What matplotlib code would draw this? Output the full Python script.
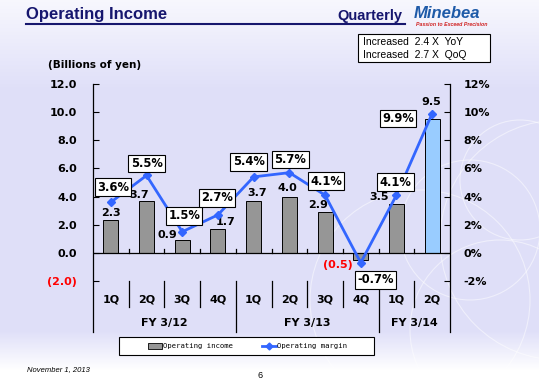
import matplotlib
matplotlib.use("Agg")
import matplotlib.pyplot as plt
import matplotlib.patches as mpatches
import numpy as np

# === DATOS ===
quarters = ["1Q", "2Q", "3Q", "4Q", "1Q", "2Q", "3Q", "4Q", "1Q", "2Q"]
fiscal_years = ["FY 3/12", "FY 3/13", "FY 3/14"]
fy_spans = [(0, 3), (4, 7), (8, 9)]
operating_income = [2.3, 3.7, 0.9, 1.7, 3.7, 4.0, 2.9, -0.5, 3.5, 9.5]
operating_margin = [3.6, 5.5, 1.5, 2.7, 5.4, 5.7, 4.1, -0.7, 4.1, 9.9]
left_ticks = [12, 10, 8, 6, 4, 2, 0, -2]
right_ticks = [12, 10, 8, 6, 4, 2, 0, -2]

# desplazamientos de etiquetas (pixeles)
inc_off = [(0, 7), (-7, 6), (-15, 5), (8, 7), (3, 8), (-2, 9), (-7, 7), (-23, -5), (-17, 7), (-1, 17)]
mar_off = [(2, 15), (0, 12), (2, 16), (-1, 17), (-5, 15), (1, 13), (1, 14), (15, -17), (-1, 13), (-34, -5)]

# === FIGURA ===
W, H = 539, 380
fig = plt.figure(figsize=(W / 100, H / 100), dpi=100)

# fondo degradado
bg = fig.add_axes([0, 0, 1, 1], zorder=-10)
grad = np.ones((H, 1, 3))
top = np.array([0.97, 0.97, 0.995])
mid = np.array([0.875, 0.875, 0.975])
for r in range(H):
    if r < 90:
        c = top + (mid - top) * r / 90
    elif r < 330:
        c = mid
    else:
        t = min((r - 330) / 40, 1)
        c = mid + (np.array([1, 1, 1]) - mid) * t
    grad[r, 0] = c
bg.imshow(grad, aspect="auto", extent=[0, W, H, 0])
for cx, cy, rad in [(470, 230, 70), (520, 180, 60), (420, 300, 110), (500, 330, 90), (560, 240, 120)]:
    bg.add_patch(mpatches.Circle((cx, cy), rad, fill=False, ec="white", lw=0.8, alpha=0.5))
bg.set_xlim(0, W)
bg.set_ylim(H, 0)
bg.axis("off")

# titulo
fig.text(26 / W, 1 - 14 / H, "Operating Income", fontsize=12, fontweight="bold",
         color="#16166e", family="Liberation Sans", va="center")
fig.text(337 / W, 1 - 16 / H, "Quarterly", fontsize=10.5, fontweight="bold",
         color="#16166e", family="Liberation Sans", va="center")
bg.plot([26, 405], [24, 24], color="#16166e", lw=1.5)
fig.text(414 / W, 1 - 13 / H, "Minebea", fontsize=12, fontweight="bold", style="italic",
         color="#1e5aa8", family="Liberation Sans", va="center")
fig.text(416 / W, 1 - 25 / H, "Passion to Exceed Precision", fontsize=3.8, fontweight="bold",
         style="italic", color="#d02020", family="Liberation Sans", va="center")

# caja de incremento
bg.add_patch(mpatches.Rectangle((358, 34), 132, 28, fc="white", ec="black", lw=0.8))
fig.text(363 / W, 1 - 42 / H, "Increased  2.4 X  YoY", fontsize=7.5, family="Liberation Sans", va="center")
fig.text(363 / W, 1 - 55 / H, "Increased  2.7 X  QoQ", fontsize=7.5, family="Liberation Sans", va="center")

fig.text(48 / W, 1 - 65 / H, "(Billions of yen)", fontsize=7.5, fontweight="bold", va="center")

# === EJES ===
ax = fig.add_axes([93 / W, 1 - 281 / H, 357 / W, 197 / H])
ax.patch.set_alpha(0)
x = np.arange(len(quarters))
colors = ["#969696"] * 9 + ["#99ccff"]
ax.bar(x, operating_income, width=0.42, color=colors, edgecolor="black", lw=0.7, zorder=2)
ax.set_xlim(-0.5, 9.5)
ax.set_ylim(-2, 12)
for s in ax.spines.values():
    s.set_visible(False)
ax.set_xticks([])
ax.set_yticks(left_ticks)
ax.set_yticklabels(["(2.0)" if v < 0 else f"{v:.1f}" for v in left_ticks],
                   fontsize=8, fontweight="bold")
for lab, v in zip(ax.get_yticklabels(), left_ticks):
    if v < 0:
        lab.set_color("red")
ax.tick_params(axis="y", direction="in", length=4, width=0.8, pad=11.5)

ax2 = ax.twinx()
for s in ax2.spines.values():
    s.set_visible(False)
ax2.set_ylim(-2, 12)
ax2.plot(x, operating_margin, color="#3366ff", lw=2, marker="D", ms=4.5, zorder=3)
ax2.set_yticks(right_ticks)
ax2.set_yticklabels([f"{v}%" for v in right_ticks], fontsize=8, fontweight="bold")
ax2.tick_params(axis="y", direction="in", length=4, width=0.8, pad=9.5)

# lineas de ejes y separadores
lw = 0.9
ax.plot([-0.5, -0.5], [12, -5.62], color="black", lw=lw, clip_on=False)
ax.plot([9.5, 9.5], [12, -5.62], color="black", lw=lw, clip_on=False)
ax.plot([-0.5, 9.5], [0, 0], color="black", lw=lw, zorder=2.5)
for b in np.arange(0.5, 9, 1):
    ax.plot([b, b], [0, 0.28], color="black", lw=lw)
    bottom = -5.62 if b in (3.5, 7.5) else -3.85
    ax.plot([b, b], [-2, bottom], color="black", lw=lw, clip_on=False)
for i, q in enumerate(quarters):
    ax.text(i, -3.28, q, ha="center", va="center", fontsize=8, fontweight="bold")
for fy, (a, b) in zip(fiscal_years, fy_spans):
    ax.text((a + b) / 2, -4.98, fy, ha="center", va="center", fontsize=8, fontweight="bold")

# etiquetas de valores
for i, v in enumerate(operating_income):
    txt = f"({abs(v):.1f})" if v < 0 else f"{v:.1f}"
    ax.annotate(txt, (i, v), xytext=inc_off[i], textcoords="offset pixels",
                ha="center", va="center", fontsize=8, fontweight="bold",
                color="red" if v < 0 else "black", zorder=4)
for i, v in enumerate(operating_margin):
    ax2.annotate(f"{v:.1f}%", (i, v), xytext=mar_off[i], textcoords="offset pixels",
                 ha="center", va="center", fontsize=8.3, fontweight="bold", zorder=5,
                 bbox=dict(boxstyle="square,pad=0.2", fc="white", ec="black", lw=0.8))

# leyenda
bg.add_patch(mpatches.Rectangle((119, 337), 255, 18, fc="white", ec="black", lw=0.8, zorder=5))
bg.add_patch(mpatches.Rectangle((148, 343), 14, 6, fc="#969696", ec="black", lw=0.6, zorder=6))
bg.plot([262, 276], [346, 346], color="#3366ff", lw=2, zorder=6)
bg.plot([269], [346], color="#3366ff", marker="D", ms=3.5, zorder=6)
fig.text(163 / W, 1 - 346 / H, "Operating income", fontsize=5.2, family="DejaVu Sans Mono", va="center")
fig.text(277 / W, 1 - 346 / H, "Operating margin", fontsize=5.2, family="DejaVu Sans Mono", va="center")

# pie
fig.text(27 / W, 1 - 370 / H, "November 1, 2013", fontsize=5.5, style="italic",
         family="Liberation Sans", va="center")
fig.text(258 / W, 1 - 375 / H, "6", fontsize=6.5, family="Liberation Sans", va="center")

fig.savefig("out.png", dpi=100)
